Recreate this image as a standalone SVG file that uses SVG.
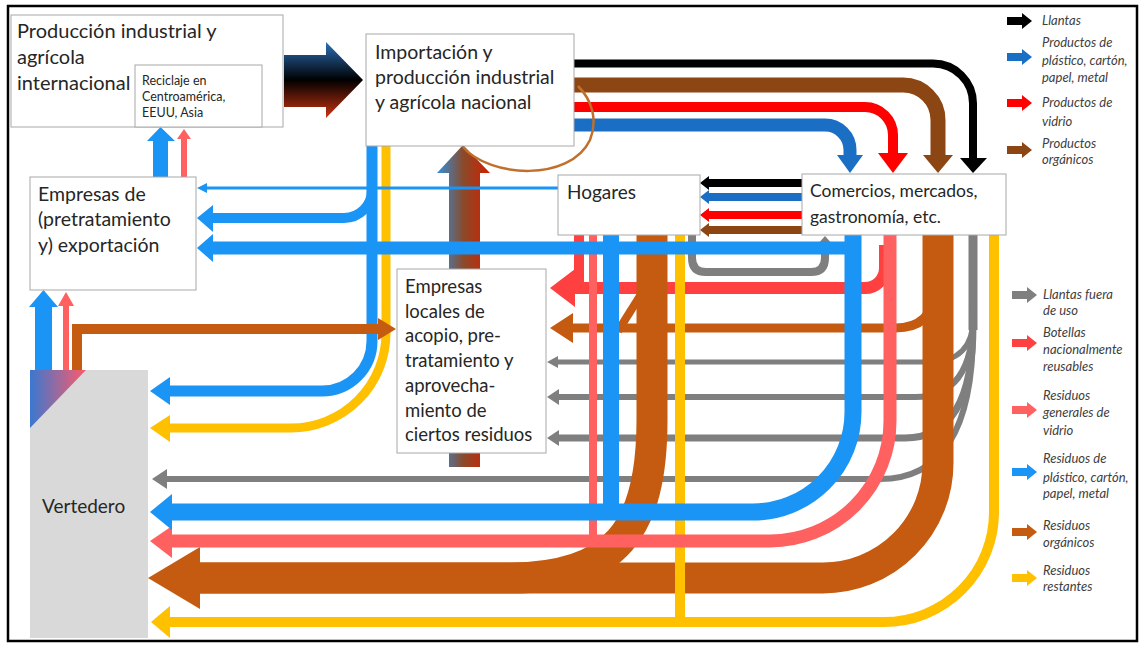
<svg xmlns="http://www.w3.org/2000/svg" width="1142" height="646" viewBox="0 0 1142 646">
<defs>
<linearGradient id="gBig" x1="0" y1="0" x2="0" y2="1">
<stop offset="0" stop-color="#2a70b8"/><stop offset="0.5" stop-color="#000"/><stop offset="1" stop-color="#cc3311"/>
</linearGradient>
<linearGradient id="gUp" x1="0" y1="0" x2="1" y2="0">
<stop offset="0" stop-color="#2f8fde"/><stop offset="0.5" stop-color="#8b4a2a"/><stop offset="1" stop-color="#d02000"/>
</linearGradient>
<linearGradient id="gTri" x1="0" y1="0" x2="1" y2="0">
<stop offset="0" stop-color="#3a78d0"/><stop offset="1" stop-color="#ff5a6a"/>
</linearGradient>
<path id="la" d="M0,-4 H15 V-8 L25,0 L15,8 V4 H0 Z"/>
<style>
.box{fill:#fff;stroke:#a8a8a8;stroke-width:1}
.t{font-family:Lato,"Open Sans",sans-serif;fill:#262626}
.lg{font-family:Lato,"Open Sans",sans-serif;font-style:italic;font-size:13px;fill:#404040}
.f{fill:none}
.k{stroke:#000}
.pb{stroke:#1a6fc4}
.pr{stroke:#ff0000}
.po{stroke:#8c4614}
.gy{stroke:#7f7f7f}
.rb{stroke:#ff4040}
.rp{stroke:#ff6161}
.bl{stroke:#1a94f5}
.br{stroke:#c55a11}
.ye{stroke:#ffc000}
</style>
</defs>
<rect x="0" y="0" width="1142" height="646" fill="#fff"/>
<rect x="8" y="6" width="1129" height="635" fill="none" stroke="#000" stroke-width="2.5"/>

<g id="connectors">
<!-- product flows from Importación to Comercios -->
<path class="f k" stroke-width="8" d="M570 63.5 H933 A40 40 0 0 1 973 103.5 V160"/>
<polygon fill="#000" points="960,158 987,158 973,173"/>
<path class="f po" stroke-width="15" d="M570 85 H903 A35 35 0 0 1 938 120 V157"/>
<polygon fill="#8c4614" points="923,155 953,155 938,173"/>
<path class="f pr" stroke-width="10" d="M570 107 H865 A28 28 0 0 1 893 135 V155"/>
<polygon fill="#ff0000" points="878,153 908,153 893,173"/>
<path class="f pb" stroke-width="13" d="M570 125 H825 A25 25 0 0 1 850 150 V157"/>
<polygon fill="#1a6fc4" points="837,155 863,155 850,173"/>

<!-- big gradient arrow -->
<polygon fill="url(#gBig)" points="284,55 326,55 326,42 363,80 326,118 326,107 284,107"/>
<!-- gradient up arrow to Importación -->
<polygon fill="url(#gUp)" points="449,467 449,173 437,173 463,145 490,173 480,173 480,467"/>

<!-- Comercios to Hogares -->
<path class="f k" stroke-width="8" d="M805 183 H706"/><polygon fill="#000" points="709,176 709,190 700,183"/>
<path class="f pb" stroke-width="8" d="M805 197 H706"/><polygon fill="#1a6fc4" points="709,190 709,204 700,197"/>
<path class="f pr" stroke-width="8" d="M805 215 H706"/><polygon fill="#ff0000" points="709,208 709,222 700,215"/>
<path class="f po" stroke-width="8" d="M805 230 H706"/><polygon fill="#8c4614" points="709,223 709,237 700,230"/>

<!-- gray U Hogares to Comercios -->
<path class="f gy" stroke-width="8" d="M692 235 V258 Q692 272 706 272 H811 Q825 272 825 258 V243"/>
<polygon fill="#7f7f7f" points="817,245 825,236 833,245"/>

<!-- branches -->
<path class="f rb" stroke-width="12" d="M885 245 V268 A20 20 0 0 1 865 288 H572"/>
<polygon fill="#ff4040" points="575,269 575,307 550,288"/>
<path class="f br" stroke-width="9" d="M935 290 Q933 328 895 328 H570"/>
<polygon fill="#c55a11" points="573,313 573,343 550,328"/>
<path class="f br" stroke-width="8" d="M618 331 L640 296"/>

<!-- gray fans -->
<path class="f gy" stroke-width="9" d="M973 235 V330"/>
<path class="f gy" stroke-width="5" d="M973 300 V318 Q973 362 929 362 H556"/>
<polygon fill="#7f7f7f" points="558,356 558,368 547,362"/>
<path class="f gy" stroke-width="6" d="M973 318 Q973 397 915 397 H556"/>
<polygon fill="#7f7f7f" points="559,389 559,405 547,397"/>
<path class="f gy" stroke-width="7" d="M973 325 Q973 438 905 438 H556"/>
<polygon fill="#7f7f7f" points="559,430 559,446 547,438"/>
<path class="f gy" stroke-width="6" d="M973 330 Q973 479 880 479 H162"/>
<polygon fill="#7f7f7f" points="167,469 167,489 152,479"/>

<!-- Hogares outflows -->
<path class="f br" stroke-width="31" d="M652 235 V420 C652 530 615 578 510 578 H198"/>
<path class="f rb" stroke-width="10" d="M579 235 V290"/>
<path class="f rp" stroke-width="8" d="M593 235 V541"/>
<path class="f bl" stroke-width="16" d="M611 235 V512"/>

<!-- Comercios brown to Vertedero -->
<path class="f br" stroke-width="31" d="M938 235 V463 A115 115 0 0 1 823 578 H196"/>
<polygon fill="#c55a11" points="200,547 200,609 148,578"/>

<!-- yellows -->
<path class="f ye" stroke-width="10" d="M994 235 V512 A110 110 0 0 1 884 622 H166"/>
<polygon fill="#ffc000" points="170,606 170,638 151,622"/>
<path class="f ye" stroke-width="10" d="M680 235 V622"/>
<path class="f ye" stroke-width="9" d="M386 146 V333 A95 95 0 0 1 291 428 H166"/>
<polygon fill="#ffc000" points="170,415 170,442 150,428"/>

<!-- Importación blue -->
<path class="f bl" stroke-width="11" d="M372 146 V341 A50 50 0 0 1 322 391 H166"/>
<polygon fill="#1a94f5" points="170,377 170,405 150,391"/>
<path class="f bl" stroke-width="10" d="M372 190 A28 28 0 0 1 344 218 H208"/>
<polygon fill="#1a94f5" points="213,205 213,232 197,218"/>

<!-- Comercios pink and blue -->
<path class="f rp" stroke-width="13" d="M890 235 V421 A120 120 0 0 1 770 541 H168"/>
<polygon fill="#ff6161" points="172,526 172,558 150,541"/>
<path class="f bl" stroke-width="17" d="M853 235 V412 A100 100 0 0 1 753 512 H168"/>
<polygon fill="#1a94f5" points="172,494 172,530 150,512"/>
<path class="f bl" stroke-width="13" d="M853 248 H208"/>
<polygon fill="#1a94f5" points="213,234 213,262 197,248"/>
<path class="f bl" stroke-width="3" d="M558 188 H205"/>
<polygon fill="#1a94f5" points="207,183 207,193 197,188"/>

<!-- from Vertedero -->
<polygon fill="#1a94f5" points="35,372 35,307 29,307 43.5,290 58,307 52,307 52,372"/>
<polygon fill="#ff6161" points="63,372 63,306 58,306 66,292 74,306 69,306 69,372"/>
<path class="f br" stroke-width="10" d="M77 380 V329 H380"/>
<polygon fill="#c55a11" points="378,318 378,340 396,329"/>

<!-- from Empresas de exportación -->
<polygon fill="#1a94f5" points="153,177 153,141 147,141 160.5,127 175,141 168,141 168,177"/>
<polygon fill="#ff6161" points="181,177 181,139 177,139 184,129 191,139 187,139 187,177"/>
</g>

<g id="n-produccion">
<rect class="box" x="11" y="15" width="272" height="112"/>
<text class="t" font-size="20" x="17" y="38">Producción industrial y</text>
<text class="t" font-size="20" x="17" y="64">agrícola</text>
<text class="t" font-size="20" x="17" y="90">internacional</text>
</g>
<g id="n-reciclaje">
<rect class="box" x="135" y="65" width="127" height="62"/>
<text class="t" font-size="12.5" x="142" y="85">Reciclaje en</text>
<text class="t" font-size="12.5" x="142" y="101">Centroamérica,</text>
<text class="t" font-size="12.5" x="142" y="117">EEUU, Asia</text>
</g>
<g id="n-importacion">
<rect class="box" x="366" y="34" width="208" height="112"/>
<text class="t" font-size="19.5" x="375" y="59">Importación y</text>
<text class="t" font-size="19.5" x="375" y="84">producción industrial</text>
<text class="t" font-size="19.5" x="375" y="109">y agrícola nacional</text>
</g>
<g id="n-hogares">
<rect class="box" x="558" y="175" width="142" height="60"/>
<text class="t" font-size="19" x="567" y="199">Hogares</text>
</g>
<g id="n-comercios">
<rect class="box" x="802" y="174" width="204" height="61"/>
<text class="t" font-size="17.5" x="810" y="197">Comercios, mercados,</text>
<text class="t" font-size="17.5" x="810" y="223">gastronomía, etc.</text>
</g>
<g id="n-exportacion">
<rect class="box" x="30" y="177" width="166" height="113"/>
<text class="t" font-size="19.5" x="38" y="201">Empresas de</text>
<text class="t" font-size="19.5" x="38" y="226">(pretratamiento</text>
<text class="t" font-size="19.5" x="38" y="252">y) exportación</text>
</g>
<g id="n-locales">
<rect class="box" x="397" y="269" width="149" height="184"/>
<text class="t" font-size="18.5" x="405" y="293">Empresas</text>
<text class="t" font-size="18.5" x="405" y="318">locales de</text>
<text class="t" font-size="18.5" x="405" y="342">acopio, pre-</text>
<text class="t" font-size="18.5" x="405" y="367">tratamiento y</text>
<text class="t" font-size="18.5" x="405" y="392">aprovecha-</text>
<text class="t" font-size="18.5" x="405" y="417">miento de</text>
<text class="t" font-size="18.5" x="405" y="441">ciertos residuos</text>
</g>
<g id="n-vertedero">
<rect x="30" y="370" width="118" height="268" fill="#d9d9d9"/>
<polygon fill="url(#gTri)" points="30,370 86,370 30,428"/>
<text class="t" font-size="19" x="42" y="513">Vertedero</text>
</g>

<path id="loop" fill="none" stroke="#c0702c" stroke-width="2.5" d="M463 147 C490 178 570 182 590 140 C598 120 592 100 578 86"/>

<g id="legend">
<use href="#la" x="1007" y="21" fill="#000"/>
<text class="lg" x="1042" y="25">Llantas</text>
<use href="#la" x="1007" y="57" fill="#1a6fc4"/>
<text class="lg" x="1042" y="47">Productos de</text>
<text class="lg" x="1042" y="65">plástico, cartón,</text>
<text class="lg" x="1042" y="82">papel, metal</text>
<use href="#la" x="1007" y="103" fill="#ff0000"/>
<text class="lg" x="1042" y="107">Productos de</text>
<text class="lg" x="1042" y="126">vidrio</text>
<use href="#la" x="1007" y="150" fill="#8c4614"/>
<text class="lg" x="1042" y="148">Productos</text>
<text class="lg" x="1042" y="164">orgánicos</text>

<use href="#la" x="1012" y="295" fill="#7f7f7f"/>
<text class="lg" x="1043" y="299">Llantas fuera</text>
<text class="lg" x="1043" y="315">de uso</text>
<use href="#la" x="1012" y="343" fill="#ff4040"/>
<text class="lg" x="1043" y="337">Botellas</text>
<text class="lg" x="1043" y="354">nacionalmente</text>
<text class="lg" x="1043" y="371">reusables</text>
<use href="#la" x="1012" y="410" fill="#ff6161"/>
<text class="lg" x="1043" y="400">Residuos</text>
<text class="lg" x="1043" y="417">generales de</text>
<text class="lg" x="1043" y="435">vidrio</text>
<use href="#la" x="1012" y="472" fill="#1a94f5"/>
<text class="lg" x="1043" y="463">Residuos de</text>
<text class="lg" x="1043" y="482">plástico, cartón,</text>
<text class="lg" x="1043" y="498">papel, metal</text>
<use href="#la" x="1012" y="532" fill="#c55a11"/>
<text class="lg" x="1043" y="530">Residuos</text>
<text class="lg" x="1043" y="547">orgánicos</text>
<use href="#la" x="1012" y="578" fill="#ffc000"/>
<text class="lg" x="1043" y="575">Residuos</text>
<text class="lg" x="1043" y="591">restantes</text>
</g>
</svg>
